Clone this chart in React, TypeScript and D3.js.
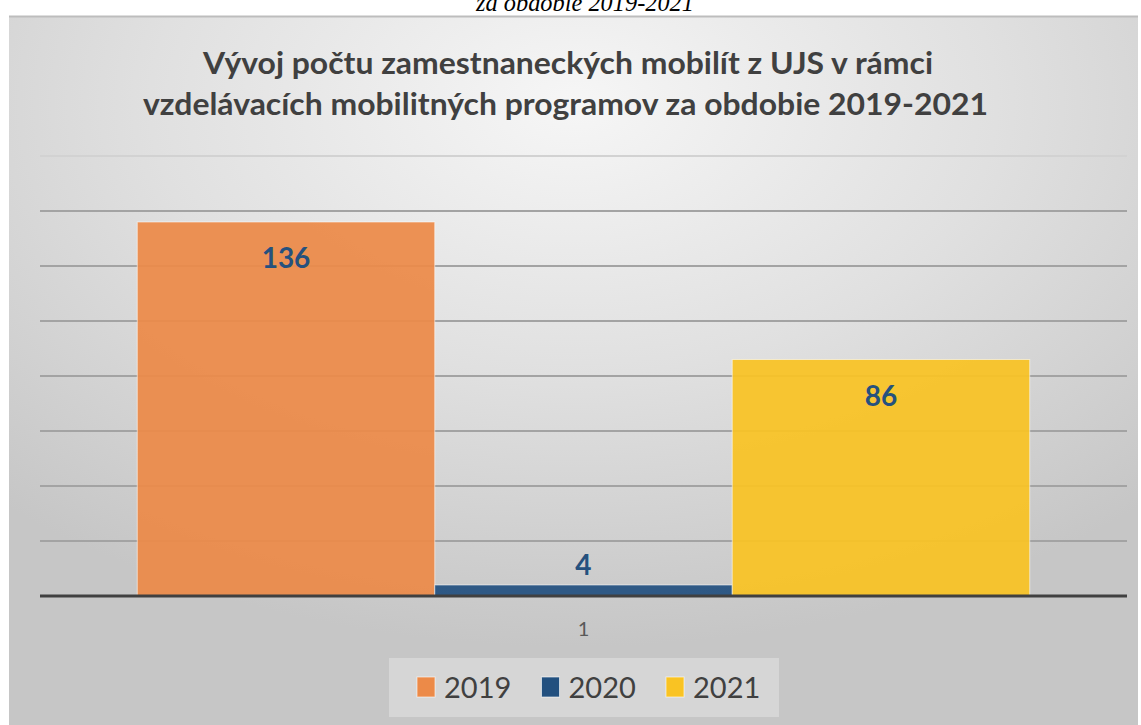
import React from "react";
import * as d3 from "d3";

const categories = ["1"];
const seriesNames = ["2019", "2020", "2021"];
const seriesValues = [136, 4, 86];
const seriesColors = ["#EC8A48", "#22507F", "#F9C323"];
const yTicks = [20, 40, 60, 80, 100, 120, 140, 160];
const titleLines = [
  "Vývoj počtu zamestnaneckých mobilít z UJS v rámci",
  "vzdelávacích mobilitných programov za obdobie 2019-2021",
];
const captionText = "za obdobie 2019-2021";

const W = 1141;
const H = 725;
const plotLeft = 40;
const plotRight = 1127;
const plotBottom = 596;
const plotTop = 156;

export default function App() {
  const x0 = d3
    .scaleBand<string>()
    .domain(categories)
    .range([plotLeft, plotRight])
    .paddingInner(0)
    .paddingOuter(0.109);
  const x1 = d3
    .scaleBand<string>()
    .domain(seriesNames)
    .range([0, x0.bandwidth()])
    .padding(0);
  const y = d3.scaleLinear().domain([0, 160]).range([plotBottom, plotTop]);

  const font = "Lato, 'Open Sans', sans-serif";
  const legendStart = 417;
  const legendStep = 124.5;

  return (
    <svg
      width={W}
      height={H}
      style={{ position: "absolute", left: 0, top: 0, display: "block" }}
    >
      <defs>
        <radialGradient id="bg" cx="0.5" cy="0.12" r="0.75" fx="0.5" fy="0.12">
          <stop offset="0" stopColor="#f6f6f6" />
          <stop offset="0.5" stopColor="#e0e0e0" />
          <stop offset="1" stopColor="#c6c6c6" />
        </radialGradient>
      </defs>
      <rect x={0} y={0} width={W} height={H} fill="#ffffff" />
      <text
        x={585}
        y={11}
        textAnchor="middle"
        fontFamily="'Liberation Serif', 'Times New Roman', serif"
        fontStyle="italic"
        fontSize={25}
        fill="#000"
        textLength={218}
        lengthAdjust="spacingAndGlyphs"
      >
        {captionText}
      </text>
      <rect x={9} y={16} width={1129} height={H} fill="url(#bg)" />
      <line x1={9} x2={1138} y1={16.5} y2={16.5} stroke="#bdbdbd" strokeWidth={2} />

      {titleLines.map((t, i) => (
        <text
          key={i}
          x={i === 0 ? 568 : 565.5}
          y={74 + i * 41}
          textAnchor="middle"
          fontFamily={font}
          fontWeight="bold"
          fontSize={30}
          fill="#404040"
          textLength={i === 0 ? 730 : 845}
          lengthAdjust="spacingAndGlyphs"
        >
          {t}
        </text>
      ))}

      {yTicks.map((t, i) => (
        <line
          key={t}
          x1={plotLeft}
          x2={plotRight}
          y1={y(t)}
          y2={y(t)}
          stroke={i === yTicks.length - 1 ? "#d2d2d2" : "#a3a3a3"}
          strokeWidth={2}
        />
      ))}

      {categories.map((c) => (
        <g key={c} transform={`translate(${x0(c)},0)`}>
          {seriesNames.map((s, i) => {
            const v = seriesValues[i];
            const bx = x1(s) as number;
            const by = y(v);
            const bh = y(0) - by;
            const inside = bh > 50;
            return (
              <g key={s}>
                <rect
                  x={bx}
                  y={by}
                  width={x1.bandwidth()}
                  height={bh}
                  fill={seriesColors[i]}
                  fillOpacity={0.93}
                  stroke="#ffffff"
                  strokeOpacity={0.55}
                  strokeWidth={1}
                />
                <text
                  x={bx + x1.bandwidth() / 2}
                  y={inside ? by + 46 : by - 10}
                  textAnchor="middle"
                  fontFamily={font}
                  fontWeight="bold"
                  fontSize={28}
                  fill="#25517E"
                >
                  {v}
                </text>
              </g>
            );
          })}
          <text
            x={x0.bandwidth() / 2}
            y={636}
            textAnchor="middle"
            fontFamily={font}
            fontSize={20}
            fill="#595959"
          >
            {c}
          </text>
        </g>
      ))}

      <line
        x1={plotLeft}
        x2={plotRight}
        y1={plotBottom}
        y2={plotBottom}
        stroke="#404040"
        strokeWidth={3}
      />

      <rect x={389} y={658} width={390} height={59} fill="#ffffff" fillOpacity={0.28} />
      {seriesNames.map((s, i) => (
        <g key={s} transform={`translate(${legendStart + i * legendStep},0)`}>
          <rect
            x={0}
            y={677}
            width={18}
            height={20}
            fill={seriesColors[i]}
            stroke="#ffffff"
            strokeOpacity={0.6}
            strokeWidth={1}
          />
          <text
            x={27}
            y={698}
            fontFamily={font}
            fontSize={29}
            fill="#404040"
          >
            {s}
          </text>
        </g>
      ))}
    </svg>
  );
}
